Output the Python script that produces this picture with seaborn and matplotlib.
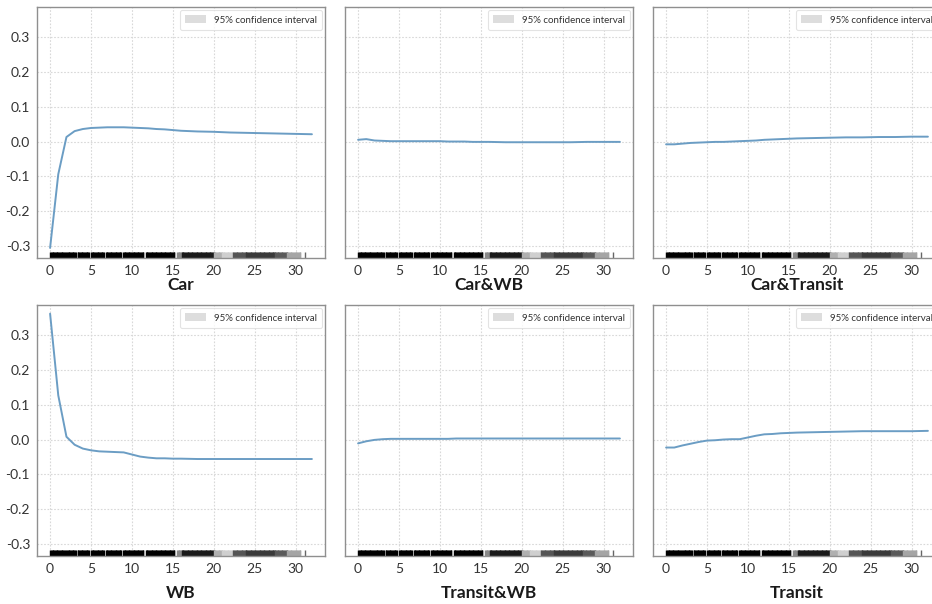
import numpy as np
import pandas as pd
import matplotlib
matplotlib.use("Agg")
import matplotlib.pyplot as plt
import seaborn as sns

# Partial-dependence style curves for each travel-mode combination
x_vals = [0, 1, 2, 3, 4, 5, 6, 7, 8, 9, 10, 11, 12, 13, 14, 15, 16,
          18, 20, 22, 24, 26, 28, 30, 32]

car = [-0.306, -0.094, 0.013, 0.030, 0.036, 0.039, 0.040, 0.041, 0.041, 0.041,
       0.040, 0.039, 0.038, 0.036, 0.035, 0.033, 0.031, 0.029, 0.028, 0.026,
       0.025, 0.024, 0.023, 0.022, 0.021]
car_wb = [0.005, 0.007, 0.003, 0.002, 0.001, 0.001, 0.001, 0.001, 0.001, 0.001,
          0.001, 0.000, 0.000, 0.000, -0.001, -0.001, -0.001, -0.002, -0.002,
          -0.002, -0.002, -0.002, -0.001, -0.001, -0.001]
car_transit = [-0.008, -0.008, -0.006, -0.004, -0.003, -0.002, -0.001, -0.001,
               0.000, 0.001, 0.002, 0.003, 0.005, 0.006, 0.007, 0.008, 0.009,
               0.010, 0.011, 0.012, 0.012, 0.013, 0.013, 0.014, 0.014]
wb = [0.362, 0.127, 0.008, -0.015, -0.026, -0.031, -0.034, -0.035, -0.036,
      -0.037, -0.043, -0.049, -0.052, -0.054, -0.054, -0.055, -0.055, -0.056,
      -0.056, -0.056, -0.056, -0.056, -0.056, -0.056, -0.056]
transit_wb = [-0.011, -0.005, -0.001, 0.001, 0.002, 0.002, 0.002, 0.002, 0.002,
              0.002, 0.002, 0.002, 0.003, 0.003, 0.003, 0.003, 0.003, 0.003,
              0.003, 0.003, 0.003, 0.003, 0.003, 0.003, 0.003]
transit = [-0.023, -0.023, -0.017, -0.012, -0.007, -0.003, -0.002, 0.000, 0.001,
           0.001, 0.006, 0.011, 0.015, 0.016, 0.018, 0.019, 0.020, 0.021, 0.022,
           0.023, 0.024, 0.024, 0.024, 0.024, 0.025]

panel_names = ["Car", "Car&WB", "Car&Transit", "WB", "Transit&WB", "Transit"]
panel_values = [car, car_wb, car_transit, wb, transit_wb, transit]

# Observation rug: runs of observed feature values and their shade
rug_runs = [(0.0, 1.6, "#000000"), (1.75, 3.2, "#000000"), (3.35, 4.8, "#000000"),
            (5.0, 6.6, "#000000"), (6.8, 8.7, "#000000"), (8.9, 11.4, "#000000"),
            (11.7, 15.2, "#000000"), (15.5, 16.1, "#888888"), (16.1, 20.0, "#1a1a1a"),
            (20.0, 21.0, "#b0b0b0"), (21.0, 22.4, "#cfcfcf"), (22.4, 24.0, "#555555"),
            (24.0, 27.5, "#3a3a3a"), (27.5, 29.0, "#5a5a5a"),
            (29.0, 30.6, "#a5a5a5"), (31.15, 31.2, "#666666")]

y_ticks = [-0.3, -0.2, -0.1, 0.0, 0.1, 0.2, 0.3]
x_ticks = [0, 5, 10, 15, 20, 25, 30]

sns.set_theme(style="white")
plt.rcParams["font.family"] = ["Lato", "DejaVu Sans"]

frames = []
for name, vals in zip(panel_names, panel_values):
    frames.append(pd.DataFrame({"x": x_vals, "effect": vals, "mode": name}))
df = pd.concat(frames, ignore_index=True)

W, H = 932, 604
fig = plt.figure(figsize=(W / 100, H / 100), dpi=100)
fig.patch.set_facecolor("white")

lefts = [37, 345, 653]
tops = [7, 305]
aw, ah = 288, 251

axes = []
for r in range(2):
    for c in range(3):
        rect = [lefts[c] / W, 1 - (tops[r] + ah) / H, aw / W, ah / H]
        ax = fig.add_axes(rect, sharey=axes[0] if axes else None)
        axes.append(ax)

line_color = "#6b9dc4"
for i, (ax, name) in enumerate(zip(axes, panel_names)):
    sub = df[df["mode"] == name]
    ax.fill_between(sub["x"], sub["effect"], sub["effect"], color="#dddddd",
                    label="95% confidence interval", linewidth=0)
    sns.lineplot(data=sub, x="x", y="effect", ax=ax, color=line_color,
                 linewidth=1.4, legend=False)
    for lo, hi, shade in rug_runs:
        pts = np.arange(lo, hi + 1e-9, 0.1)
        sns.rugplot(x=pts, ax=ax, color=shade, height=0.025, linewidth=1.0,
                    alpha=1, expand_margins=False)

    ax.set_xlim(-1.6, 33.6)
    ax.set_ylim(-0.335, 0.387)
    ax.set_xticks(x_ticks)
    ax.set_yticks(y_ticks)
    ax.grid(True, color="#d8d8d8", linestyle=(0, (1.5, 1.5)), linewidth=0.8)
    ax.set_axisbelow(True)
    for sp in ax.spines.values():
        sp.set_color("#8f8f8f")
        sp.set_linewidth(1.0)
    ax.tick_params(axis="both", labelsize=10, colors="#333333")
    ax.tick_params(axis="y", length=3, width=0.8, color="#888888", pad=2)
    ax.tick_params(axis="x", length=0, pad=5)
    if i % 3 != 0:
        ax.tick_params(axis="y", labelleft=False)
    else:
        ax.set_yticklabels([f"{v:.1f}" for v in y_ticks])
    ax.set_ylabel("")
    ax.set_xlabel(name, fontsize=12.5, fontweight="bold", color="#1a1a1a",
                  labelpad=0 if i < 3 else 7)
    leg = ax.legend(loc="upper right", fontsize=7, frameon=True, fancybox=True,
                    borderpad=0.5, handlelength=2.2, handleheight=0.9,
                    borderaxespad=0.35)
    leg.get_frame().set_edgecolor("#dddddd")
    leg.get_frame().set_linewidth(0.8)
    for t in leg.get_texts():
        t.set_color("#333333")

fig.savefig("out.png", dpi=100)
